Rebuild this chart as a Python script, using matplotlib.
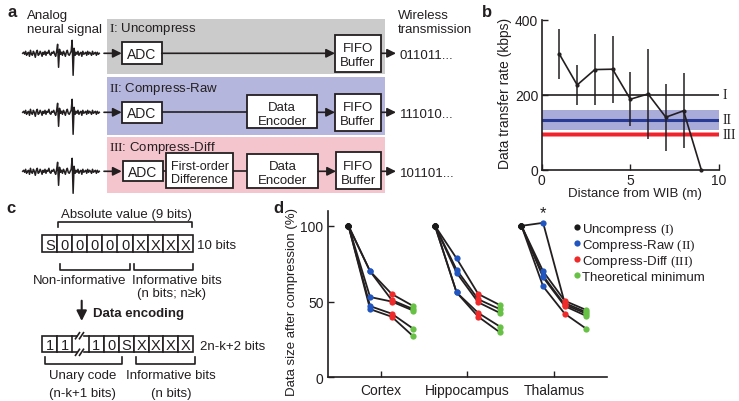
import matplotlib
matplotlib.use("Agg")
import matplotlib.pyplot as plt
import numpy as np
from matplotlib.patches import Rectangle

plt.rcParams["font.family"] = ["Liberation Sans", "DejaVu Sans"]
plt.rcParams["mathtext.fontset"] = "custom"
plt.rcParams["mathtext.rm"] = "Liberation Serif"
plt.rcParams["mathtext.it"] = "Liberation Serif:italic"
plt.rcParams["mathtext.bf"] = "Liberation Serif:bold"

INK = "#231f20"
FS = 9.5

# ---- panel a: schematic waveform (hand traced, px offsets) ----
WAVE = [0, -1, 1, -2, 2, 0, -1, 3, -3, 1, 2, -2, 0, 4, -1, -3, 2, 1, -2, 0,
        3, -1, 1, -2, 2, -1, 0, -3, 1, 2, -1, 0, -2, 1, 3, -2, -9, 14, -4, 1,
        -1, 2, -2, 0, 3, -1, -3, 1, 2, 0, -2, -13, 22, -5, 2, -1, 1, -2, 2, 0,
        -1, 3, -2, 1, 0, -1, 2, -2, 1, -1, 0, 2, -2, 1, 0, -1, 2, -1, 1, 0]
OUTPUT_BITS = ["011011...", "111010...", "101101..."]
PIPELINES = ["Uncompress", "Compress-Raw", "Compress-Diff"]
PIPE_NUMERALS = ["I", "II", "III"]

# ---- panel b ----
DIST = [1, 2, 3, 4, 5, 6, 7, 8, 9]
RATE = [308, 226, 267, 268, 188, 202, 140, 157, 0]
RATE_ERR = [67, 53, 94, 89, 72, 119, 89, 100, 0]
UNCOMP_RATE = 200
RAW_RATE, RAW_LO, RAW_HI = 133, 107, 159
DIFF_RATE, DIFF_LO, DIFF_HI = 94, 86, 101

# ---- panel c ----
RAW_BITS = ["S", "0", "0", "0", "0", "0", "X", "X", "X", "X"]
ENC_BITS_LEFT = ["1", "1"]
ENC_BITS_RIGHT = ["1", "0", "S", "X", "X", "X", "X"]

# ---- panel d ----
REGIONS = ["Cortex", "Hippocampus", "Thalamus"]
CONDITIONS = ["Uncompress (I)", "Compress-Raw (II)", "Compress-Diff (III)", "Theoretical minimum"]
CORTEX = [[100, 70, 55, 47], [100, 70, 51, 45], [100, 53, 50, 44],
          [100, 47, 42, 32], [100, 45, 40, 27]]
HIPPOCAMPUS = [[100, 78.5, 55, 47.7], [100, 71, 51.5, 45], [100, 69, 49.5, 42.5],
               [100, 56, 42.5, 33.5], [100, 56, 40, 29.7]]
THALAMUS = [[100, 102, 49, 43], [100, 70, 50.5, 44.4], [100, 67, 48, 42],
            [100, 66, 47, 40.5], [100, 60, 42, 32]]
COND_COLORS = ["#1a1a1a", "#2155c0", "#ee2a2a", "#66c144"]

W, H = 739, 402
fig = plt.figure(figsize=(W / 100, H / 100), dpi=100)
ax0 = fig.add_axes([0, 0, 1, 1])
ax0.set_xlim(0, W)
ax0.set_ylim(H, 0)
ax0.axis("off")


def px_axes(l, t, r, b):
    a = fig.add_axes([l / W, 1 - b / H, (r - l) / W, (b - t) / H])
    a.patch.set_alpha(0)
    return a


def ctext(x, y, s, fs=FS, ha="center", **kw):
    # y is the visual centre of capital letters
    ax0.text(x, y + 0.497 * fs, s, fontsize=fs, ha=ha, va="baseline", color=INK, **kw)


def box(x0, y0, x1, y1):
    ax0.add_patch(Rectangle((x0, y0), x1 - x0, y1 - y0, facecolor="white",
                            edgecolor=INK, lw=1.3, zorder=3))


def arrow(x0, x1, y, head=True):
    if head:
        ax0.annotate("", xy=(x1, y), xytext=(x0, y),
                     arrowprops=dict(arrowstyle="-|>", color=INK, lw=1.2,
                                     mutation_scale=13, shrinkA=0, shrinkB=0))
    else:
        ax0.plot([x0, x1], [y, y], color=INK, lw=1.2)


# ================= panel a =================
ax0.text(8, 16.7, "a", fontsize=12, fontweight="bold", color=INK)
ax0.text(27, 19.3, "Analog", fontsize=FS, color=INK)
ax0.text(27, 33.3, "neural signal", fontsize=FS, color=INK)
ax0.text(398, 19.3, "Wireless", fontsize=FS, color=INK)
ax0.text(398, 33.3, "transmission", fontsize=FS, color=INK)

bands = [(20, 75, "#cbcbcb"), (78.3, 136, "#b4b6dd"), (138.3, 194.3, "#f5c5ce")]
header_y = [31.7, 91.7, 150.7]
rows_y = [54.3, 113.3, 172.3]
wx = np.linspace(22.7, 99.3, len(WAVE))
for i, (t, b, c) in enumerate(bands):
    ax0.add_patch(Rectangle((107, t), 278, b - t, facecolor=c, edgecolor="none", zorder=0))
    ax0.text(109, header_y[i], rf"$\mathrm{{{PIPE_NUMERALS[i]}}}$: {PIPELINES[i]}",
             fontsize=FS, color=INK)
    y = rows_y[i]
    ax0.plot(wx, y + np.array(WAVE), color=INK, lw=1.1)
    arrow(104, 121.7, y)
    ctext(400, y, OUTPUT_BITS[i], ha="left")
    arrow(380.7, 396, y)

# row I
y = rows_y[0]
box(121.7, 43.3, 161.7, 64.5); ctext(141.7, y, "ADC", fs=10)
arrow(161.7, 335, y)
box(335, 36, 380.7, 72.7); ctext(357.8, y - 7, "FIFO"); ctext(357.8, y + 6.5, "Buffer")
# row II
y = rows_y[1]
box(121.7, 102.7, 161.7, 124); ctext(141.7, y, "ADC", fs=10)
arrow(161.7, 247.3, y, head=False)
box(247.3, 95.7, 317.3, 129.3); ctext(282.3, y - 7, "Data"); ctext(282.3, y + 6.5, "Encoder")
arrow(317.3, 335, y)
box(335, 95, 380.7, 131.7); ctext(357.8, y - 7, "FIFO"); ctext(357.8, y + 6.5, "Buffer")
# row III
y = rows_y[2]
box(122.7, 162.3, 162.7, 182.3); ctext(142.7, y, "ADC", fs=10)
arrow(162.7, 165.7, y, head=False)
box(165.7, 154.3, 233.3, 189)
ctext(199.5, y - 7, "First-order", fs=9); ctext(199.5, y + 6.5, "Difference", fs=9)
arrow(233.3, 247.3, y, head=False)
box(247.3, 155, 318.3, 189); ctext(282.8, y - 7, "Data"); ctext(282.8, y + 6.5, "Encoder")
arrow(318.3, 336, y)
box(336, 153.3, 380.7, 190); ctext(358.3, y - 7, "FIFO"); ctext(358.3, y + 6.5, "Buffer")

# ================= panel c =================
ax0.text(6.7, 213.3, "c", fontsize=12, fontweight="bold", color=INK)
ctext(126, 213.3, "Absolute value (9 bits)")
ax0.plot([58.3, 58.3, 191.7, 191.7], [228.3, 222.7, 222.7, 228.3], color=INK, lw=1.2)

cw = 15.04
for i, s in enumerate(RAW_BITS):
    x0 = 42.3 + i * cw
    ax0.add_patch(Rectangle((x0, 236), cw, 17.3, facecolor="white", edgecolor=INK, lw=1.2))
    ctext(x0 + cw / 2, 244.7, s, fs=10.5)
ctext(196.7, 244.5, "10 bits", ha="left")

ax0.plot([60, 60, 130, 130], [265, 271, 271, 265], color=INK, lw=1.2)
ax0.plot([134.3, 134.3, 192.7, 192.7], [265, 271, 271, 265], color=INK, lw=1.2)
ctext(79.7, 279, "Non-informative")
ctext(177, 279, "Informative bits")
ctext(171.7, 292.5, "(n bits; n≥k)")

ax0.annotate("", xy=(81.7, 322), xytext=(81.7, 301.7),
             arrowprops=dict(arrowstyle="-|>", color=INK, lw=1.5,
                             mutation_scale=15, shrinkA=0, shrinkB=0))
ctext(93.3, 312.7, "Data encoding", ha="left", fontweight="bold")

# encoded word with break
ey0, ey1 = 336.7, 353.3
ecw = 14.9
for i, s in enumerate(ENC_BITS_LEFT):
    x0 = 42.3 + i * ecw
    ax0.add_patch(Rectangle((x0, ey0), ecw, ey1 - ey0, facecolor="white", edgecolor=INK, lw=1.2))
    ctext(x0 + ecw / 2, 345, s, fs=10.5)
xr = 88.9
for i, s in enumerate(ENC_BITS_RIGHT):
    x0 = xr + i * ecw
    ax0.add_patch(Rectangle((x0, ey0), ecw, ey1 - ey0, facecolor="white", edgecolor=INK, lw=1.2))
    ctext(x0 + ecw / 2, 345, s, fs=10.5)
xl = 42.3 + 2 * ecw
for yy in (ey0, ey1):
    ax0.plot([xl, 76.5], [yy, yy], color=INK, lw=1.2)
    ax0.plot([84, xr], [yy, yy], color=INK, lw=1.2)
    for dx in (0, 4):
        ax0.plot([75.5 + dx, 79.5 + dx], [yy + 3, yy - 3], color=INK, lw=1.2)
ctext(200, 345, "2n-k+2 bits", ha="left")

ax0.plot([45, 45, 121.7, 121.7], [358.3, 365, 365, 358.3], color=INK, lw=1.2)
ax0.plot([136, 136, 195, 195], [358.3, 365, 365, 358.3], color=INK, lw=1.2)
ctext(82.3, 374.7, "Unary code")
ctext(82.3, 392, "(n-k+1 bits)")
ctext(171, 374.7, "Informative bits")
ctext(171.7, 392, "(n bits)")

# ================= panel b =================
ax0.text(481.7, 17.3, "b", fontsize=12, fontweight="bold", color=INK)
axb = px_axes(541.7, 20.7, 719, 170.7)
axb.axhspan(RAW_LO, RAW_HI, color="#a9abd9", lw=0, zorder=1)
axb.axhspan(DIFF_LO, DIFF_HI, color="#f6b3b8", lw=0, zorder=1)
axb.axhline(UNCOMP_RATE, color=INK, lw=1.2, zorder=2)
axb.axhline(RAW_RATE, color="#283c96", lw=2.2, zorder=2)
axb.axhline(DIFF_RATE, color="#f0222b", lw=2.5, zorder=2)
axb.errorbar(DIST[:-1], RATE[:-1], yerr=RATE_ERR[:-1], fmt="none", ecolor=INK,
             elinewidth=1.1, capsize=0, zorder=3)
axb.plot(DIST, RATE, color=INK, lw=1.2, marker="o", ms=2, zorder=4, clip_on=False)
axb.set_xlim(0, 10)
axb.set_ylim(0, 400)
axb.set_xticks([0, 5, 10])
axb.set_yticks([0, 200, 400])
for sp in ("top", "right"):
    axb.spines[sp].set_visible(False)
for sp in ("left", "bottom"):
    axb.spines[sp].set_linewidth(1.2)
    axb.spines[sp].set_color(INK)
axb.tick_params(direction="in", length=4, width=1, colors=INK, labelsize=10, pad=2.5)
for lab, val in zip(PIPE_NUMERALS, [UNCOMP_RATE, RAW_RATE, DIFF_RATE]):
    axb.text(10.2, val, lab, family="Liberation Serif", fontsize=10, va="center",
             color=INK, clip_on=False)
ax0.text(505, 93, "Data transfer rate (kbps)", rotation=90, ha="center", va="center",
         fontsize=10, color=INK)
ax0.text(635, 197.5, "Distance from WIB (m)", ha="center", va="baseline", fontsize=FS, color=INK)

# ================= panel d =================
ax0.text(273.3, 213.3, "d", fontsize=12, fontweight="bold", color=INK)
axd = px_axes(327.7, 211.7, 606.7, 378.3)
offsets = [-0.375, -0.125, 0.125, 0.375]
for gi, subjects in enumerate([CORTEX, HIPPOCAMPUS, THALAMUS]):
    xs = [gi + 1 + o for o in offsets]
    for vals in subjects:
        axd.plot(xs, vals, color=INK, lw=1.3, zorder=2)
    for ci in range(4):
        axd.plot([xs[ci]] * len(subjects), [v[ci] for v in subjects], "o",
                 color=COND_COLORS[ci], ms=4.5, mew=0, zorder=3)
axd.text(3 - 0.125, 104, "*", ha="center", va="bottom", fontsize=12, color=INK)
axd.set_xlim(0.385, 3.61)
axd.set_ylim(0, 110)
axd.set_xticks([1, 2, 3])
axd.set_xticklabels(REGIONS)
axd.set_yticks([0, 50, 100])
for sp in ("top", "right"):
    axd.spines[sp].set_visible(False)
for sp in ("left", "bottom"):
    axd.spines[sp].set_linewidth(1.2)
    axd.spines[sp].set_color(INK)
axd.tick_params(direction="in", length=4, width=1, colors=INK, labelsize=10)
axd.tick_params(axis="y", pad=3)
axd.tick_params(axis="x", pad=4)
ax0.text(291.7, 302.5, "Data size after compression (%)", rotation=90, ha="center",
         va="center", fontsize=FS, color=INK)

legend_labels = [r"Uncompress $(\mathrm{I})$", r"Compress-Raw $(\mathrm{II})$",
                 r"Compress-Diff $(\mathrm{III})$", "Theoretical minimum"]
for i, (lab, c) in enumerate(zip(legend_labels, COND_COLORS)):
    yy = 228.3 + i * 15.9
    ax0.plot([576.7], [yy], "o", color=c, ms=4.5, mew=0)
    ctext(582.5, yy, lab, ha="left")

fig.savefig("out.png", dpi=100)
